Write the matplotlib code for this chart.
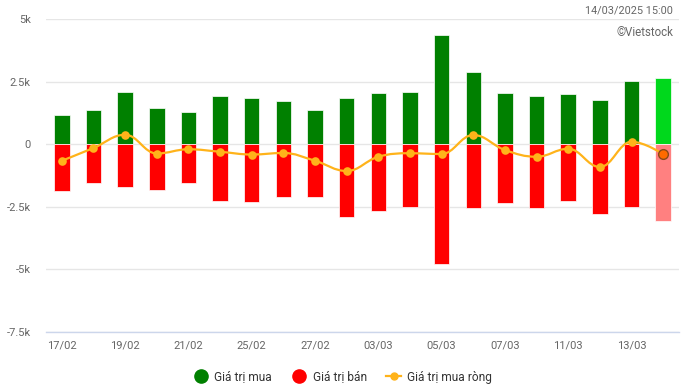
import matplotlib
matplotlib.use("Agg")
import matplotlib.pyplot as plt
import numpy as np
from matplotlib.path import Path
from matplotlib.patches import PathPatch
from matplotlib.lines import Line2D
from matplotlib.ticker import FuncFormatter

# Foreign investors' trading value (billion VND), 17/02 - 14/03/2025
dates = ["17/02", "18/02", "19/02", "20/02", "21/02", "24/02", "25/02", "26/02",
         "27/02", "28/02", "03/03", "04/03", "05/03", "06/03", "07/03", "10/03",
         "11/03", "12/03", "13/03", "14/03"]
buy = [1190, 1390, 2080, 1470, 1310, 1920, 1840, 1720, 1390, 1840,
       2060, 2100, 4390, 2890, 2070, 1950, 2030, 1790, 2520, 2640]
sell = [-1890, -1570, -1730, -1850, -1570, -2260, -2300, -2100, -2100, -2930,
        -2660, -2500, -4800, -2540, -2340, -2540, -2290, -2780, -2500, -3070]
net = [-660, -150, 380, -370, -200, -300, -410, -350, -660, -1070,
       -500, -360, -390, 370, -230, -500, -180, -910, 100, -390]

GREEN = "#008000"
RED = "#ff0000"
ORANGE = "#ffb31a"
GREY_TXT = "#666666"

plt.rcParams["font.family"] = ["Roboto", "DejaVu Sans"]

fig = plt.figure(figsize=(6.85, 3.9), dpi=100)
ax = fig.add_axes([46 / 685, 1 - 331.7 / 390, 633 / 685, (331.7 - 19.3) / 390])

x = np.arange(len(dates))
n = len(dates)
buy_colors = [GREEN] * (n - 1) + ["#00d81c"]
sell_colors = [RED] * (n - 1) + ["#ff8080"]

ax.bar(x, buy, width=0.49, color=buy_colors, edgecolor="white", linewidth=0.5, zorder=2)
ax.bar(x, sell, width=0.49, color=sell_colors, edgecolor="white", linewidth=0.5, zorder=2)


# Highcharts-like spline through the net values
def spline_path(xs, ys, smoothing=1.5):
    denom = smoothing + 1
    lc, rc = [], []
    for i in range(len(xs)):
        px, py = xs[i], ys[i]
        if i == 0 or i == len(xs) - 1:
            lc.append((px, py))
            rc.append((px, py))
            continue
        lx, ly = xs[i - 1], ys[i - 1]
        nx, ny = xs[i + 1], ys[i + 1]
        lcx = (smoothing * px + lx) / denom
        lcy = (smoothing * py + ly) / denom
        rcx = (smoothing * px + nx) / denom
        rcy = (smoothing * py + ny) / denom
        corr = (rcy - lcy) * (rcx - px) / (rcx - lcx) + py - rcy
        lcy += corr
        rcy += corr
        if lcy > ly and lcy > py:
            lcy = max(ly, py)
            rcy = 2 * py - lcy
        elif lcy < ly and lcy < py:
            lcy = min(ly, py)
            rcy = 2 * py - lcy
        if rcy > ny and rcy > py:
            rcy = max(ny, py)
            lcy = 2 * py - rcy
        elif rcy < ny and rcy < py:
            rcy = min(ny, py)
            lcy = 2 * py - rcy
        lc.append((lcx, lcy))
        rc.append((rcx, rcy))
    verts = [(xs[0], ys[0])]
    codes = [Path.MOVETO]
    for i in range(1, len(xs)):
        verts += [rc[i - 1], lc[i], (xs[i], ys[i])]
        codes += [Path.CURVE4] * 3
    return Path(verts, codes)


ax.add_patch(PathPatch(spline_path(list(x), net), facecolor="none",
                       edgecolor=ORANGE, linewidth=1.6, zorder=3))
ax.plot(x[:-1], net[:-1], "o", color=ORANGE, markersize=6.2,
        markeredgewidth=0, zorder=4)
ax.plot(x[-1:], net[-1:], "o", color="#ff6a00", markersize=7,
        markeredgecolor="#8a4a1a", markeredgewidth=1.0, zorder=4)

ax.set_xlim(-0.5, n - 0.5)
ax.set_ylim(-7500, 5000)
ax.set_yticks([-7500, -5000, -2500, 0, 2500, 5000])


def kfmt(v, pos):
    if v == 0:
        return "0"
    return f"{v / 1000:g}k"


ax.yaxis.set_major_formatter(FuncFormatter(kfmt))
ax.set_xticks(x[::2])
ax.set_xticklabels(dates[::2])
ax.grid(axis="y", color="#e6e6e6", linewidth=1, zorder=0)
ax.set_axisbelow(True)
for s in ["top", "right", "left"]:
    ax.spines[s].set_visible(False)
ax.spines["bottom"].set_color("#ccd6eb")
ax.spines["bottom"].set_linewidth(1)
ax.tick_params(axis="y", length=0, pad=11, labelsize=8, labelcolor=GREY_TXT)
ax.tick_params(axis="x", length=0, pad=6, labelsize=8, labelcolor=GREY_TXT)

fig.text(673 / 685, 1 - 11 / 390, "14/03/2025 15:00", ha="right", va="center",
         fontsize=7.8, color=GREY_TXT)
fig.text(673 / 685, 1 - 33 / 390, "©Vietstock", ha="right", va="center",
         fontsize=8.3, color=GREY_TXT)

handles = [
    Line2D([], [], marker="o", linestyle="none", color=GREEN, markersize=9.5),
    Line2D([], [], marker="o", linestyle="none", color=RED, markersize=9.5),
    Line2D([], [], marker="o", color=ORANGE, linewidth=1.6, markersize=5),
]
fig.legend(handles, ["Giá trị mua", "Giá trị bán", "Giá trị mua ròng"],
           loc="center", bbox_to_anchor=(0.5, 1 - 377 / 390), ncol=3,
           frameon=False, fontsize=8.6, labelcolor="#333333",
           handlelength=1.3, handletextpad=0.5, columnspacing=1.6)

fig.savefig("out.png", dpi=100)
